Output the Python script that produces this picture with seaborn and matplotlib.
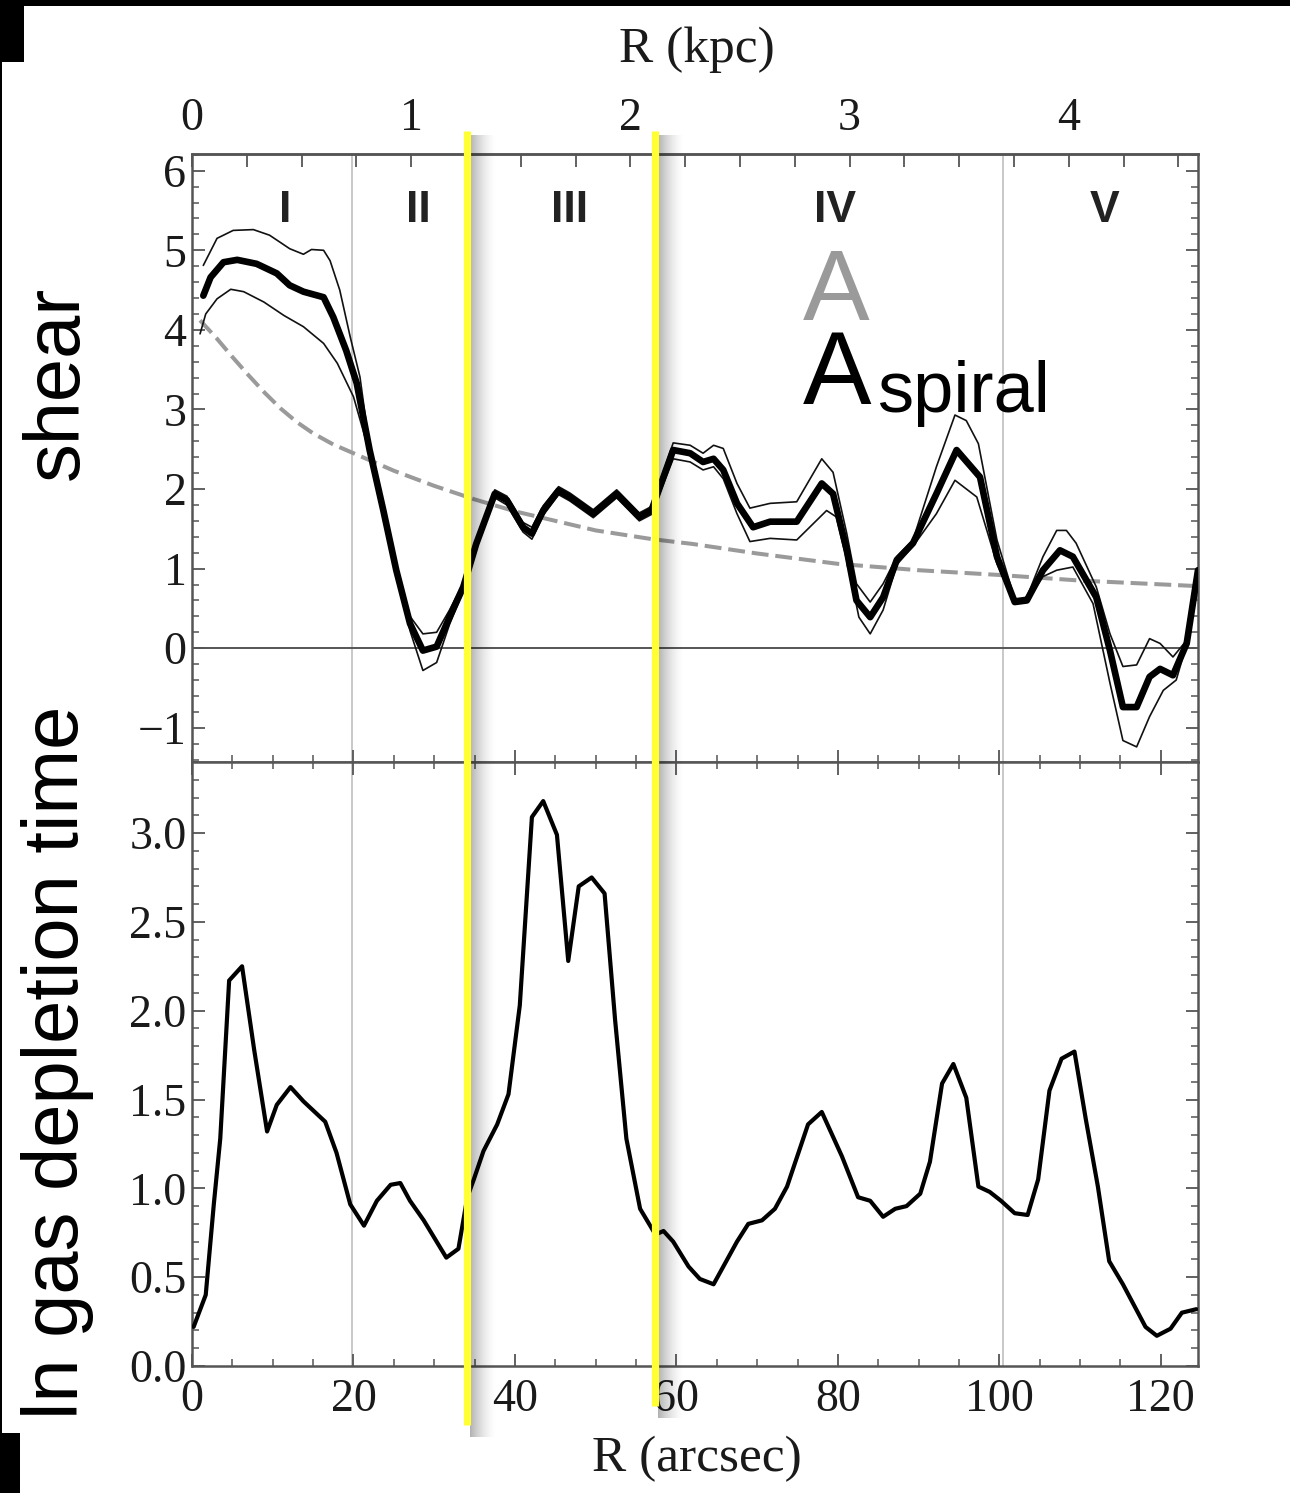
import numpy as np
import pandas as pd
import seaborn as sns
import matplotlib
matplotlib.use("Agg")
import matplotlib.pyplot as plt
from matplotlib.patches import Rectangle
from matplotlib.lines import Line2D
from matplotlib.ticker import MultipleLocator, FormatStrFormatter, FixedLocator

# ---------------------------------------------------------------- data
# radius in arcsec; shear of the spiral pattern (A_spiral) with its envelope
r_spiral = [1.4, 2.3, 3.9, 5.6, 8.0, 10.5, 12.1, 13.8, 16.3, 17.5, 19.1, 20.4, 22.0, 23.7,
            25.3, 27.0, 28.6, 30.3, 31.9, 33.6, 35.2, 37.5, 39.0, 41.0, 42.1, 43.5, 45.4,
            46.8, 49.7, 52.6, 55.4, 56.9, 59.6, 61.7, 63.3, 64.6, 65.8, 67.5, 69.5, 71.6,
            74.9, 78.0, 79.4, 81.1, 82.3, 84.0, 85.6, 87.3, 89.3, 92.2, 94.7, 97.6, 99.7,
            101.9, 103.4, 105.4, 107.5, 109.1, 112.0, 113.7, 115.3, 117.0, 118.6, 119.9,
            121.5, 123.2, 124.6]
a_spiral = [4.43, 4.66, 4.85, 4.88, 4.83, 4.71, 4.56, 4.48, 4.41, 4.16, 3.74, 3.33, 2.49,
            1.73, 0.98, 0.31, -0.03, 0.02, 0.39, 0.77, 1.31, 1.94, 1.86, 1.52, 1.44, 1.73,
            1.98, 1.90, 1.69, 1.94, 1.65, 1.73, 2.49, 2.45, 2.34, 2.38, 2.24, 1.82, 1.52,
            1.59, 1.59, 2.07, 1.94, 1.23, 0.60, 0.39, 0.64, 1.11, 1.32, 1.94, 2.49, 2.15,
            1.15, 0.58, 0.60, 0.98, 1.23, 1.15, 0.64, -0.03, -0.74, -0.74, -0.36, -0.26,
            -0.34, 0.06, 0.98]

r_upper = [1.4, 3.1, 5.1, 7.6, 9.6, 12.1, 13.8, 14.8, 16.3, 17.1, 18.3, 19.6, 20.8, 22.0,
           23.7, 25.3, 27.0, 28.6, 30.3, 31.9, 33.6, 35.2, 37.5, 39.0, 41.0, 42.1, 43.5,
           45.4, 46.8, 49.7, 52.6, 55.4, 56.9, 59.6, 61.7, 63.3, 64.6, 65.8, 67.5, 69.1,
           71.6, 74.9, 78.0, 79.4, 81.1, 82.3, 84.0, 85.6, 87.3, 89.3, 92.2, 94.5, 95.9,
           97.4, 99.7, 101.9, 103.4, 105.4, 107.1, 108.3, 109.5, 112.0, 113.7, 115.3,
           117.0, 118.6, 119.9, 121.5, 123.2, 124.6]
a_upper = [4.81, 5.15, 5.25, 5.26, 5.19, 5.02, 4.95, 5.01, 5.00, 4.87, 4.50, 3.91, 3.41,
           2.52, 1.78, 1.05, 0.40, 0.18, 0.20, 0.48, 0.82, 1.35, 1.99, 1.91, 1.58, 1.52,
           1.79, 2.03, 1.95, 1.74, 1.99, 1.70, 1.78, 2.58, 2.55, 2.45, 2.55, 2.51, 2.07,
           1.76, 1.82, 1.84, 2.38, 2.21, 1.44, 0.81, 0.58, 0.81, 1.15, 1.36, 2.28, 2.93,
           2.86, 2.57, 1.36, 0.62, 0.64, 1.15, 1.48, 1.48, 1.32, 0.77, 0.18, -0.23, -0.21,
           0.12, 0.06, -0.11, 0.10, 0.98]

r_lower = [1.0, 1.7, 3.1, 4.8, 6.4, 8.9, 11.4, 13.8, 16.3, 18.0, 20.0, 22.0, 23.7, 25.3,
           27.0, 28.6, 30.3, 31.9, 33.6, 35.2, 37.5, 39.0, 41.0, 42.1, 43.5, 45.4, 46.8,
           49.7, 52.6, 55.4, 56.9, 59.6, 61.7, 63.3, 64.6, 65.8, 67.5, 69.1, 71.6, 74.9,
           78.6, 79.8, 81.4, 82.6, 84.0, 85.6, 87.3, 89.3, 92.2, 94.5, 97.2, 99.7, 101.9,
           103.4, 105.4, 107.1, 109.1, 111.6, 113.7, 115.3, 117.0, 118.6, 120.3, 121.9,
           123.6, 124.6]
a_lower = [3.95, 4.20, 4.39, 4.51, 4.48, 4.35, 4.18, 4.04, 3.83, 3.58, 3.16, 2.45, 1.70,
           0.93, 0.22, -0.28, -0.18, 0.30, 0.72, 1.27, 1.89, 1.80, 1.46, 1.37, 1.67, 1.93,
           1.85, 1.64, 1.89, 1.60, 1.68, 2.38, 2.34, 2.24, 2.28, 2.13, 1.69, 1.34, 1.38,
           1.36, 1.73, 1.65, 0.98, 0.39, 0.18, 0.48, 1.05, 1.28, 1.69, 2.11, 1.90, 1.06,
           0.56, 0.58, 0.90, 0.98, 1.02, 0.56, -0.44, -1.16, -1.24, -0.86, -0.53, -0.40,
           0.19, 0.95]

# shear of the axisymmetric rotation curve (A)
r_oort = [1.0, 3.0, 5.0, 7.0, 9.0, 11.0, 13.0, 15.0, 17.5, 20.0, 25.0, 30.0, 35.0, 40.0,
          45.0, 50.0, 57.0, 62.0, 70.0, 80.0, 90.0, 100.0, 110.0, 124.6]
a_oort = [4.12, 3.90, 3.66, 3.43, 3.21, 3.01, 2.84, 2.70, 2.56, 2.45, 2.23, 2.04, 1.87,
          1.72, 1.60, 1.48, 1.37, 1.31, 1.19, 1.06, 0.98, 0.92, 0.85, 0.78]

# ln of the gas depletion time
r_dep = [0.2, 1.7, 2.7, 3.5, 4.6, 6.2, 7.7, 9.3, 10.5, 12.2, 13.8, 16.5, 17.9, 19.6, 21.3,
         22.9, 24.6, 25.8, 27.0, 28.7, 31.5, 33.0, 34.1, 34.9, 36.1, 37.8, 39.2, 40.6,
         42.1, 43.5, 45.2, 46.6, 47.9, 49.5, 51.1, 52.4, 53.8, 55.5, 57.4, 58.4, 59.6,
         61.5, 62.9, 64.6, 67.5, 68.9, 70.6, 72.2, 73.7, 76.3, 78.0, 80.5, 82.5, 84.0,
         85.6, 87.1, 88.5, 90.2, 91.4, 92.9, 94.3, 95.9, 97.4, 98.8, 100.2, 101.9, 103.5,
         104.8, 106.2, 107.7, 109.3, 110.7, 112.2, 113.6, 115.3, 118.1, 119.5, 121.2,
         122.6, 124.4]
ln_tdep = [0.22, 0.40, 0.91, 1.28, 2.17, 2.25, 1.78, 1.32, 1.47, 1.57, 1.49, 1.375, 1.20,
           0.91, 0.79, 0.93, 1.02, 1.03, 0.93, 0.82, 0.61, 0.66, 0.95, 1.05, 1.21, 1.36,
           1.53, 2.03, 3.09, 3.18, 2.99, 2.28, 2.70, 2.75, 2.66, 1.95, 1.28, 0.885, 0.74,
           0.76, 0.70, 0.56, 0.49, 0.46, 0.70, 0.80, 0.82, 0.885, 1.01, 1.36, 1.43, 1.18,
           0.95, 0.93, 0.84, 0.885, 0.90, 0.97, 1.15, 1.59, 1.70, 1.51, 1.01, 0.98, 0.93,
           0.86, 0.85, 1.05, 1.55, 1.73, 1.77, 1.39, 1.01, 0.59, 0.46, 0.22, 0.17, 0.21,
           0.30, 0.32]

region_names = ["I", "II", "III", "IV", "V"]
region_centres = [11.6, 28.0, 46.8, 79.6, 113.0]
region_bounds = [19.8, 100.4]          # thin grey separators
highlight_bounds = [34.0, 57.3]        # yellow markers
kpc_ticks = [0, 1, 2, 3, 4]
ARCSEC_PER_KPC = 27.15

# ---------------------------------------------------------------- style
sns.set_theme(style="ticks")
SERIF = ["Liberation Serif", "DejaVu Serif"]
SANS = ["Liberation Sans", "DejaVu Sans"]
plt.rcParams["font.family"] = SERIF
plt.rcParams["axes.unicode_minus"] = True

W, H = 1290, 1493
fig = plt.figure(figsize=(W / 100, H / 100), dpi=100)
fig.patch.set_facecolor("white")


def rect(x0, y0, x1, y1):
    """Axes box given in pixels measured from the top-left corner."""
    return [x0 / W, 1 - y1 / H, (x1 - x0) / W, (y1 - y0) / H]


ax_top = fig.add_axes(rect(192, 154, 1198, 762))
ax_bot = fig.add_axes(rect(192, 762, 1198, 1366), sharex=ax_top)

FRAME = "#555555"
TEXT = "#1a1a1a"
TICKLAB = 33
for ax in (ax_top, ax_bot):
    ax.set_facecolor("white")
    for sp in ax.spines.values():
        sp.set_color(FRAME)
        sp.set_linewidth(1.8)
    ax.tick_params(which="both", direction="in", colors=FRAME, labelcolor=TEXT,
                   left=True, right=True, top=True, bottom=True, labelsize=TICKLAB)
    ax.tick_params(which="major", length=9, width=1.3)
    ax.tick_params(which="minor", length=5, width=1.1)
    for xb in region_bounds:
        ax.axvline(xb, color="#c8c8c8", lw=1.4, zorder=0)

# ---------------------------------------------------------------- shear panel
df_oort = pd.DataFrame({"R": r_oort, "A": a_oort})
sns.lineplot(data=df_oort, x="R", y="A", ax=ax_top, color="#9a9a9a", lw=2.9,
             estimator=None, sort=False, zorder=2)
ax_top.lines[-1].set_dashes([4.2, 1.7])
for rr, aa in ((r_upper, a_upper), (r_lower, a_lower)):
    sns.lineplot(x=rr, y=aa, ax=ax_top, color="#111111", lw=1.2,
                 estimator=None, sort=False, zorder=3)
sns.lineplot(x=r_spiral, y=a_spiral, ax=ax_top, color="black", lw=4.8,
             estimator=None, sort=False, zorder=4, solid_joinstyle="round",
             solid_capstyle="round")
ax_top.axhline(0, color="#555555", lw=1.4, zorder=1)

ax_top.set_xlim(0, 124.6)
ax_top.set_ylim(-1.43, 6.21)
ax_top.yaxis.set_major_locator(MultipleLocator(1))
ax_top.yaxis.set_minor_locator(MultipleLocator(0.2))
ax_top.xaxis.set_major_locator(MultipleLocator(20))
ax_top.xaxis.set_minor_locator(MultipleLocator(5))
ax_top.tick_params(axis="x", which="both", top=False, labelbottom=False)
ax_top.tick_params(axis="y", pad=4)
ax_top.set_xlabel("")
ax_top.set_ylabel("")

for name, xc in zip(region_names, region_centres):
    ax_top.text(xc, 5.5, name, ha="center", va="center", fontsize=32,
                fontweight="bold", family=SANS, color="#222222")

ax_top.text(75.7, 4.12, "A", ha="left", va="baseline", fontsize=72,
            family=SANS, color="#9a9a9a")
ax_top.text(75.7, 3.07, "A", ha="left", va="baseline", fontsize=74,
            family=SANS, color="black")
ax_top.text(84.9, 2.97, "spiral", ha="left", va="baseline", fontsize=52,
            family=SANS, color="black")

secax = ax_top.secondary_xaxis("top", functions=(lambda r: r / ARCSEC_PER_KPC,
                                                  lambda k: k * ARCSEC_PER_KPC))
secax.xaxis.set_major_locator(FixedLocator(kpc_ticks))
secax.xaxis.set_minor_locator(FixedLocator(np.arange(0, 4.6, 0.25)))
secax.tick_params(which="both", direction="in", colors=FRAME, labelcolor=TEXT,
                  labelsize=TICKLAB, pad=10)
secax.tick_params(which="major", length=9, width=1.3)
secax.tick_params(which="minor", length=9, width=1.3)
secax.spines["top"].set_color(FRAME)
secax.spines["top"].set_linewidth(1.8)

# ---------------------------------------------------------------- depletion panel
sns.lineplot(x=r_dep, y=ln_tdep, ax=ax_bot, color="black", lw=3.0,
             estimator=None, sort=False, zorder=3, solid_joinstyle="round")
ax_bot.set_ylim(0, 3.40)
ax_bot.yaxis.set_major_locator(MultipleLocator(0.5))
ax_bot.yaxis.set_minor_locator(MultipleLocator(0.1))
ax_bot.yaxis.set_major_formatter(FormatStrFormatter("%.1f"))
ax_bot.tick_params(axis="x", pad=9)
ax_bot.tick_params(axis="y", pad=4)
ax_bot.set_ylabel("")
ax_bot.set_xlabel("R (arcsec)", fontsize=37, color=TEXT)
ax_bot.xaxis.set_label_coords(0.502, -0.115)

# ---------------------------------------------------------------- overlays
to_fig = fig.transFigure.inverted()


def px_to_fig(x, y_from_top):
    return to_fig.transform((x, H - y_from_top))


kx, ky = px_to_fig(697, 50)
fig.text(kx, ky, "R (kpc)", ha="center", va="center", fontsize=37, color=TEXT)

spans = [(131, 1425), (131, 1406)]
for xb, (ytop, ybot) in zip(highlight_bounds, spans):
    xpix = ax_bot.transData.transform((xb, 0))[0]
    # soft drop shadow on the right-hand side
    n = 26
    for i in range(n):
        a = 0.30 * (1 - i / n) ** 1.6
        x0, y0 = px_to_fig(xpix + 3 + i, ybot + 12)
        x1, y1 = px_to_fig(xpix + 4 + i, ytop + 4)
        fig.add_artist(Rectangle((x0, y0), x1 - x0, y1 - y0, transform=fig.transFigure,
                                 facecolor="black", edgecolor="none", alpha=a, zorder=8))
    (fx0, fy0), (fx1, fy1) = px_to_fig(xpix, ybot), px_to_fig(xpix, ytop)
    fig.add_artist(Line2D([fx0, fx1], [fy0, fy1], transform=fig.transFigure,
                          color="#ffff33", lw=5.2, solid_capstyle="butt", zorder=9))

# side labels
lx, ly = px_to_fig(78, 383)
fig.text(lx, ly, "shear", rotation=90, rotation_mode="anchor", ha="center",
         va="baseline", fontsize=56, family=SANS, color="black")
lx, ly = px_to_fig(78, 1062)
fig.text(lx, ly, "ln gas depletion time", rotation=90, rotation_mode="anchor",
         ha="center", va="baseline", fontsize=56, family=SANS, color="black")

# dark surround along the top and left edges
for (x0, y0, x1, y1) in [(0, 0, W, 6), (0, 0, 24, 62), (0, 62, 2, 1433), (0, 1433, 20, H)]:
    a, b = px_to_fig(x0, y1)
    c, d = px_to_fig(x1, y0)
    fig.add_artist(Rectangle((a, b), c - a, d - b, transform=fig.transFigure,
                             facecolor="black", edgecolor="none", zorder=10))

fig.savefig("out.png", dpi=100, facecolor="white")
